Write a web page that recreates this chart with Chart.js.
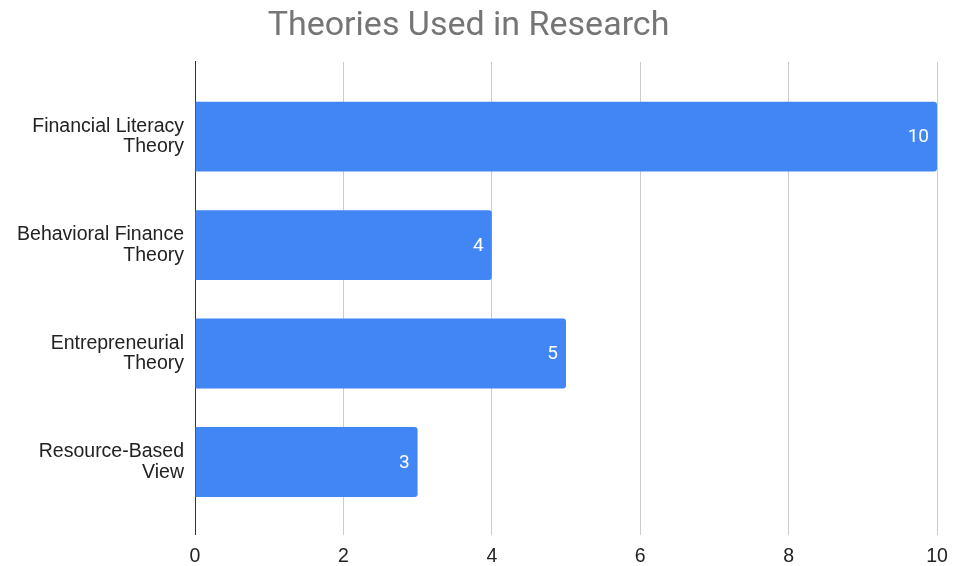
<!DOCTYPE html>
<html>
<head>
<meta charset="utf-8">
<title>Theories Used in Research</title>
<script src="https://cdn.jsdelivr.net/npm/chart.js@4.4.1/dist/chart.umd.min.js"></script>
<style>
    html, body { margin: 0; padding: 0; background: #fff; overflow: hidden; }
    #wrap { width: 953px; height: 566px; }
</style>
</head>
<body>
<div id="wrap"><canvas id="theoryChart"></canvas></div>
<script>
const theories = [
    ['Financial Literacy', 'Theory'],
    ['Behavioral Finance', 'Theory'],
    ['Entrepreneurial', 'Theory'],
    ['Resource-Based', 'View']
];
const studyCounts = [10, 4, 5, 3];
const xTicks = [0, 2, 4, 6, 8, 10];

// white value label near the end of each bar
const barValues = {
    id: 'barValues',
    afterDatasetsDraw(chart) {
        const ctx = chart.ctx;
        const meta = chart.getDatasetMeta(0);
        ctx.save();
        ctx.fillStyle = '#ffffff';
        ctx.font = '19px Roboto, "Liberation Sans", sans-serif';
        ctx.textAlign = 'right';
        ctx.textBaseline = 'middle';
        meta.data.forEach((bar, i) => {
            ctx.fillText(String(studyCounts[i]), bar.x - 8, bar.y + 1);
        });
        ctx.restore();
    }
};

const ctx = document.getElementById('theoryChart').getContext('2d');
new Chart(ctx, {
    type: 'bar',
    data: {
        datasets: [{
            data: studyCounts.map((v, i) => ({ x: v, y: i })),
            backgroundColor: '#4285f4',
            borderWidth: 0,
            borderRadius: 3,
            barPercentage: 0.645,
            categoryPercentage: 1
        }]
    },
    options: {
        indexAxis: 'y',
        responsive: true,
        maintainAspectRatio: false,
        animation: false,
        layout: { padding: { top: 0, right: 16, bottom: 0, left: 0 } },
        plugins: {
            legend: { display: false },
            tooltip: { enabled: false },
            title: {
                display: true,
                text: 'Theories Used in Research',
                color: '#757575',
                font: { family: 'Roboto, "Liberation Sans", sans-serif', size: 34, weight: 'normal' },
                padding: { top: 6, bottom: 15 }
            }
        },
        scales: {
            x: {
                type: 'linear',
                min: 0,
                max: 10,
                afterBuildTicks: scale => { scale.ticks = xTicks.map(v => ({ value: v })); },
                afterFit: scale => {
                    scale.height = 31;
                    scale.paddingLeft = 0;
                    scale.paddingRight = 0;
                },
                border: { display: false },
                grid: {
                    drawTicks: false,
                    color: c => (c.tick && c.tick.value === 0 ? 'rgba(0,0,0,0)' : '#cccccc'),
                    lineWidth: 1
                },
                ticks: {
                    color: '#222222',
                    padding: 10,
                    font: { family: '"Liberation Sans", Arial, sans-serif', size: 19.5 }
                }
            },
            y: {
                type: 'linear',
                reverse: true,
                offset: false,
                min: -0.69,
                max: 3.67,
                afterBuildTicks: scale => { scale.ticks = theories.map((t, i) => ({ value: i })); },
                afterFit: scale => { scale.width = 195; },
                border: { display: true, color: '#333333', width: 1 },
                grid: { display: false, drawTicks: false },
                ticks: {
                    color: '#222222',
                    padding: 11,
                    font: { family: '"Liberation Sans", Arial, sans-serif', size: 19.5, lineHeight: 1.04 },
                    callback: value => theories[value] || ''
                }
            }
        }
    },
    plugins: [barValues]
});
</script>
</body>
</html>
